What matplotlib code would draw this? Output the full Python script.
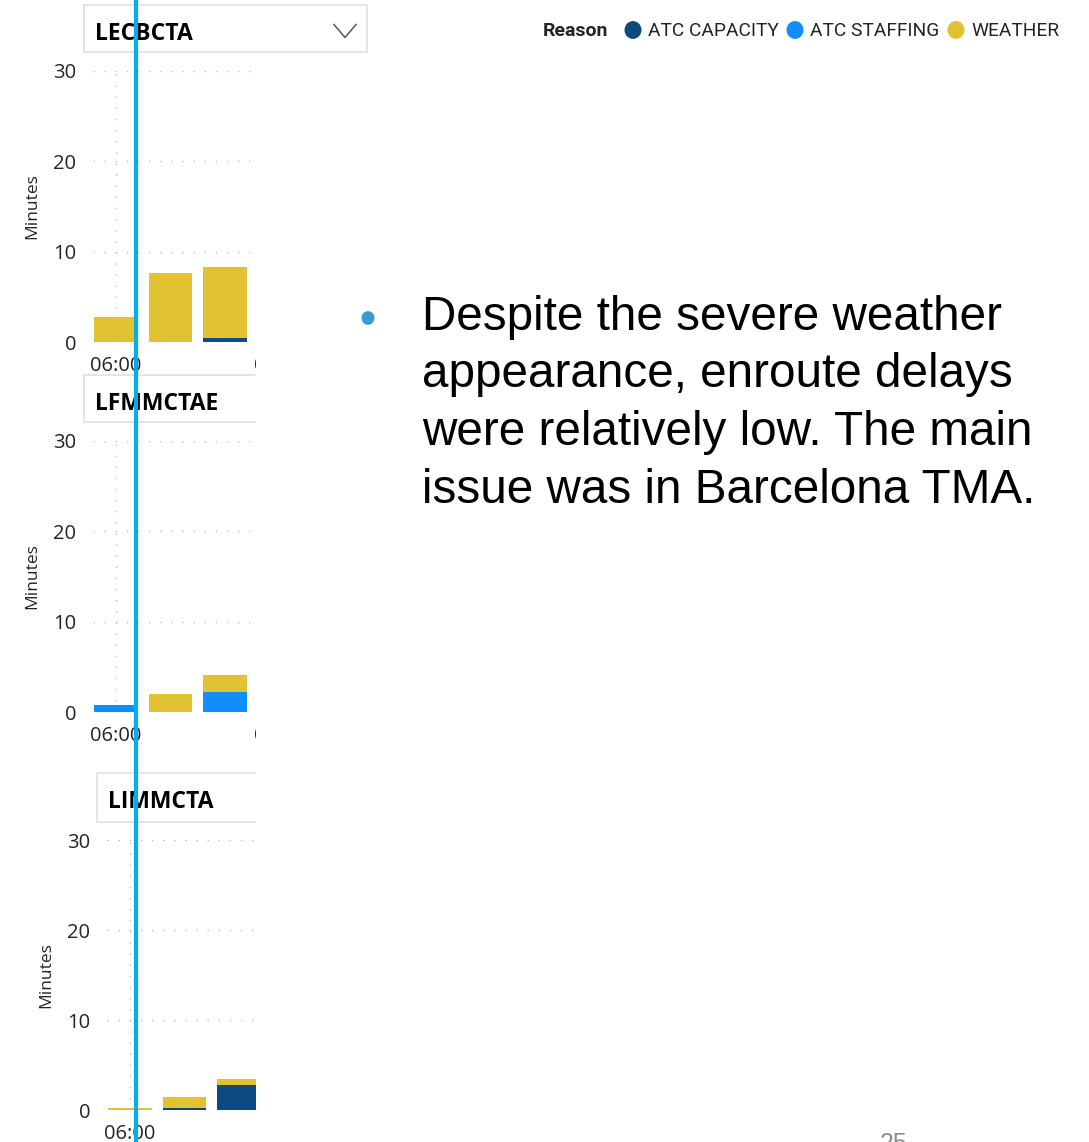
import numpy as np
import matplotlib
matplotlib.use("Agg")
import matplotlib.pyplot as plt
from matplotlib.patches import Rectangle, Circle
from matplotlib.lines import Line2D

W, H = 1089, 1142

# delay minutes per 20-minute slot, stacked by reason
slots = ["06:00", "06:20", "06:40"]
xtick_pos = [0, 3]
xtick_labels = ["06:00", "07:00"]
reasons = ["ATC CAPACITY", "ATC STAFFING", "WEATHER"]
colors = ["#0D4A7F", "#118DFF", "#E1C233"]

lecbcta_capacity = [0.0, 0.0, 0.4]
lecbcta_staffing = [0.0, 0.0, 0.0]
lecbcta_weather = [2.75, 7.6, 7.9]

lfmmctae_capacity = [0.0, 0.0, 0.0]
lfmmctae_staffing = [0.8, 0.0, 2.2]
lfmmctae_weather = [0.0, 1.95, 1.9]

limmcta_capacity = [0.0, 0.2, 2.8]
limmcta_staffing = [0.0, 0.0, 0.0]
limmcta_weather = [0.2, 1.2, 0.7]

fig = plt.figure(figsize=(W / 100, H / 100), dpi=100)
fig.patch.set_facecolor("white")


def fx(x):
    return x / W


def fy(y):
    return 1 - y / H


# the report column is cut off at x = 256 px
left_clip = Rectangle((0, 0), fx(256), 1, transform=fig.transFigure,
                      facecolor="none", edgecolor="none")
fig.add_artist(left_clip)
left_clip.set_visible(False)

AX_FONT = "Open Sans"
TXT = "#252423"


def panel(name, x0, y_top, y_zero, box, cap, staff, weather, show_chevron=False):
    bx0, by0, bx1, by1 = box
    r = Rectangle((fx(bx0), fy(by1)), fx(bx1 - bx0), (by1 - by0) / H,
                  transform=fig.transFigure, facecolor="white",
                  edgecolor="#E4E4E4", lw=1.4)
    fig.add_artist(r)
    if not show_chevron:
        r.set_clip_path(left_clip)
    fig.text(fx(bx0 + 11), fy((by0 + by1) / 2 + 5), name, fontsize=16.5,
             fontweight="bold", family=AX_FONT, color="black",
             ha="left", va="center")
    if show_chevron:
        cx, cy = bx1 - 22, (by0 + by1) / 2 + 2.5
        fig.add_artist(Line2D([fx(cx - 11), fx(cx), fx(cx + 11)],
                              [fy(cy - 6.5), fy(cy + 6.5), fy(cy - 6.5)],
                              transform=fig.transFigure, color="#555555", lw=1.1))

    center0 = x0 + 23
    step = 54.5
    ax = fig.add_axes([fx(x0), fy(y_zero), fx(256 - x0), (y_zero - y_top) / H])
    x = np.arange(len(slots))
    b1 = np.array(cap)
    b2 = b1 + np.array(staff)
    ax.bar(x, cap, width=0.79, color=colors[0], zorder=3)
    ax.bar(x, staff, width=0.79, bottom=b1, color=colors[1], zorder=3)
    ax.bar(x, weather, width=0.79, bottom=b2, color=colors[2], zorder=3)
    ax.set_xlim(-(center0 - x0) / step, (256 - center0) / step)
    ax.set_ylim(0, 30)
    ax.set_yticks([0, 10, 20, 30])
    ax.set_xticks([0])
    ax.set_xticklabels([])
    for s in ax.spines.values():
        s.set_visible(False)
    ax.tick_params(length=0, labelsize=14.5, labelcolor=TXT)
    ax.tick_params(axis="y", pad=12)
    for lab in ax.get_yticklabels():
        lab.set_family(AX_FONT)
    ax.grid(True, color="#BEBEBE", lw=1.0, linestyle=(0, (1, 7)), zorder=0)
    ax.set_ylabel("Minutes", family=AX_FONT, fontsize=12.5, color=TXT, labelpad=9)
    # hour labels, the second one cut off by the column edge
    for xp, lab in zip(xtick_pos, xtick_labels):
        t = ax.text(xp, -24 / (y_zero - y_top), lab,
                    transform=ax.get_xaxis_transform(), ha="center",
                    va="center", fontsize=14.5, family=AX_FONT, color=TXT)
        t.set_clip_on(True)
        t.set_clip_path(left_clip)
    return ax


panel("LECBCTA", 93, 71, 342, (84, 5, 367, 52),
      lecbcta_capacity, lecbcta_staffing, lecbcta_weather, show_chevron=True)
panel("LFMMCTAE", 93, 441, 712, (84, 375, 300, 422),
      lfmmctae_capacity, lfmmctae_staffing, lfmmctae_weather)
panel("LIMMCTA", 107, 840, 1110, (97, 773, 300, 822),
      limmcta_capacity, limmcta_staffing, limmcta_weather)

# legend
fig.text(fx(543), fy(31), "Reason", fontsize=14, fontweight="bold",
         family="Roboto", color="#252423", ha="left", va="center")
leg_x = [633, 795, 956]
for lx, name, c in zip(leg_x, reasons, colors):
    fig.add_artist(Circle((fx(lx), fy(30)), 8.5 / W, transform=fig.transFigure,
                          facecolor=c, edgecolor="none"))
    fig.text(fx(lx + 15), fy(31), name, fontsize=13.8, family="Roboto",
             color="#252423", ha="left", va="center")

# slide text
fig.add_artist(Circle((fx(368), fy(318)), 6.5 / W, transform=fig.transFigure,
                      facecolor="#3A9AD3", edgecolor="none"))
lines = ["Despite the severe weather", "appearance, enroute delays",
         "were relatively low. The main", "issue was in Barcelona TMA."]
for i, ln in enumerate(lines):
    fig.text(fx(422), fy(317 + i * 57.7), ln, fontsize=34.3,
             family="Liberation Sans", color="black", ha="left", va="center")

fig.text(fx(880), fy(1132), "25", fontsize=18, family="Liberation Sans",
         color="#8C8C8C", ha="left", va="top")

# vertical marker line across the report column
fig.add_artist(Line2D([fx(135.5), fx(135.5)], [0, 1], transform=fig.transFigure,
                      color="#00AEEF", lw=3.0, zorder=10))

fig.savefig("out.png", dpi=100)
